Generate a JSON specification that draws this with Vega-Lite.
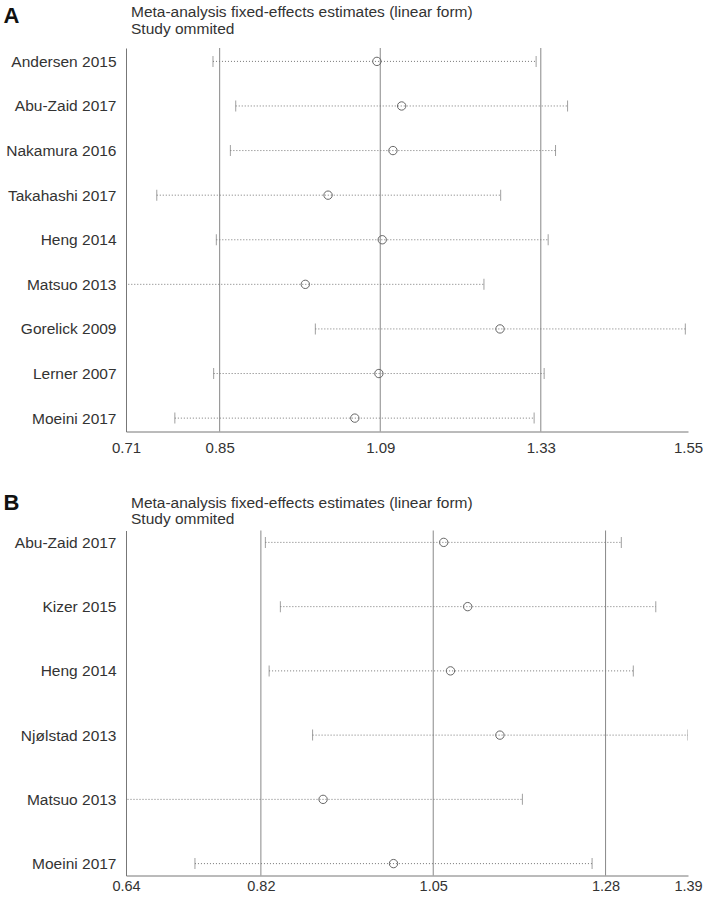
{
  "$schema": "https://vega.github.io/schema/vega-lite/v6.json",
  "padding": {"left": 3, "top": 4, "right": 0, "bottom": 0},
  "background": "white",
  "config": {
    "view": {"stroke": null},
    "font": "Liberation Sans",
    "axis": {"labelFont": "Liberation Sans", "titleFont": "Liberation Sans"}
  },
  "datasets": {
    "a": [
      {"study": "Andersen 2015", "est": 1.085, "lo": 0.840, "hi": 1.323},
      {"study": "Abu-Zaid 2017", "est": 1.122, "lo": 0.874, "hi": 1.370},
      {"study": "Nakamura 2016", "est": 1.109, "lo": 0.866, "hi": 1.352},
      {"study": "Takahashi 2017", "est": 1.012, "lo": 0.756, "hi": 1.270},
      {"study": "Heng 2014", "est": 1.093, "lo": 0.845, "hi": 1.341},
      {"study": "Matsuo 2013", "est": 0.978, "lo": 0.700, "hi": 1.245},
      {"study": "Gorelick 2009", "est": 1.269, "lo": 0.993, "hi": 1.546},
      {"study": "Lerner 2007", "est": 1.088, "lo": 0.841, "hi": 1.335},
      {"study": "Moeini 2017", "est": 1.052, "lo": 0.783, "hi": 1.320}
    ],
    "aref": [{"v": 0.85}, {"v": 1.09}, {"v": 1.33}],
    "b": [
      {"study": "Abu-Zaid 2017", "est": 1.064, "lo": 0.826, "hi": 1.301},
      {"study": "Kizer 2015", "est": 1.096, "lo": 0.846, "hi": 1.347},
      {"study": "Heng 2014", "est": 1.073, "lo": 0.831, "hi": 1.317},
      {"study": "Njølstad 2013", "est": 1.139, "lo": 0.889, "hi": 1.390},
      {"study": "Matsuo 2013", "est": 0.903, "lo": 0.630, "hi": 1.169},
      {"study": "Moeini 2017", "est": 0.997, "lo": 0.732, "hi": 1.262}
    ],
    "bref": [{"v": 0.82}, {"v": 1.05}, {"v": 1.28}]
  },
  "spacing": 35.5,
  "resolve": {"scale": {"x": "independent", "y": "independent"}},
  "vconcat": [
    {
      "width": 562,
      "height": 383.5,
      "title": {"text": ["Meta-analysis fixed-effects estimates (linear form)", "Study ommited"], "anchor": "start", "frame": "group", "dx": 5, "fontSize": 15.5, "fontWeight": "normal", "color": "#333", "font": "Liberation Sans", "lineHeight": 17.5, "offset": -33},
      "layer": [
        {
          "data": {"name": "aref"},
          "mark": {"type": "rule", "color": "#888", "strokeWidth": 1},
          "encoding": {"x": {"field": "v", "type": "quantitative"}}
        },
        {
          "data": {"name": "a"},
          "mark": {"type": "rule", "color": "#777", "strokeWidth": 1, "strokeDash": [1, 2], "clip": true},
          "encoding": {
            "y": {"field": "study", "type": "nominal", "sort": null},
            "x": {"field": "lo", "type": "quantitative"},
            "x2": {"field": "hi"}
          }
        },
        {
          "data": {"name": "a"},
          "mark": {"type": "tick", "color": "#777", "thickness": 1, "size": 11, "clip": true},
          "encoding": {
            "y": {"field": "study", "type": "nominal", "sort": null},
            "x": {"field": "lo", "type": "quantitative"}
          }
        },
        {
          "data": {"name": "a"},
          "mark": {"type": "tick", "color": "#777", "thickness": 1, "size": 11, "clip": true},
          "encoding": {
            "y": {"field": "study", "type": "nominal", "sort": null},
            "x": {"field": "hi", "type": "quantitative"}
          }
        },
        {
          "data": {"name": "a"},
          "mark": {"type": "point", "shape": "circle", "filled": false, "stroke": "#666", "strokeWidth": 1, "size": 70, "opacity": 1},
          "encoding": {
            "y": {"field": "study", "type": "nominal", "sort": null,
              "scale": {"type": "point", "padding": 0.3},
              "axis": {"title": "A", "titleAngle": 0, "titleAlign": "left", "titleBaseline": "top", "titleX": -123, "titleY": -42.5, "titleFontSize": 22, "titleFontWeight": "bold", "titleColor": "#111", "ticks": false, "grid": false, "labelPadding": 10, "labelFontSize": 15.5, "labelColor": "#333", "domainColor": "#777", "labelFont": "Liberation Sans"}},
            "x": {"field": "est", "type": "quantitative",
              "scale": {"domain": [0.71, 1.55], "nice": false, "zero": false},
              "axis": {"title": null, "values": [0.71, 0.85, 1.09, 1.33, 1.55], "format": ".2f", "grid": false, "ticks": false, "labelPadding": 9, "labelFontSize": 15, "labelColor": "#333", "domainColor": "#777", "labelFlush": false, "labelOverlap": false, "labelBound": false, "labelFont": "Liberation Sans"}}
          }
        }
      ]
    },
    {
      "width": 562,
      "height": 345,
      "title": {"text": ["Meta-analysis fixed-effects estimates (linear form)", "Study ommited"], "anchor": "start", "frame": "group", "dx": 5, "fontSize": 15.5, "fontWeight": "normal", "color": "#333", "font": "Liberation Sans", "lineHeight": 16.5, "offset": -36},
      "layer": [
        {
          "data": {"name": "bref"},
          "mark": {"type": "rule", "color": "#888", "strokeWidth": 1},
          "encoding": {"x": {"field": "v", "type": "quantitative"}}
        },
        {
          "data": {"name": "b"},
          "mark": {"type": "rule", "color": "#777", "strokeWidth": 1, "strokeDash": [1, 2], "clip": true},
          "encoding": {
            "y": {"field": "study", "type": "nominal", "sort": null},
            "x": {"field": "lo", "type": "quantitative"},
            "x2": {"field": "hi"}
          }
        },
        {
          "data": {"name": "b"},
          "mark": {"type": "tick", "color": "#777", "thickness": 1, "size": 11, "clip": true},
          "encoding": {
            "y": {"field": "study", "type": "nominal", "sort": null},
            "x": {"field": "lo", "type": "quantitative"}
          }
        },
        {
          "data": {"name": "b"},
          "mark": {"type": "tick", "color": "#777", "thickness": 1, "size": 11, "clip": true},
          "encoding": {
            "y": {"field": "study", "type": "nominal", "sort": null},
            "x": {"field": "hi", "type": "quantitative"}
          }
        },
        {
          "data": {"name": "b"},
          "mark": {"type": "point", "shape": "circle", "filled": false, "stroke": "#666", "strokeWidth": 1, "size": 70, "opacity": 1},
          "encoding": {
            "y": {"field": "study", "type": "nominal", "sort": null,
              "scale": {"type": "point", "padding": 0.185},
              "axis": {"title": "B", "titleAngle": 0, "titleAlign": "left", "titleBaseline": "top", "titleX": -123, "titleY": -38, "titleFontSize": 22, "titleFontWeight": "bold", "titleColor": "#111", "ticks": false, "grid": false, "labelPadding": 10, "labelFontSize": 15.5, "labelColor": "#333", "domainColor": "#777", "labelFont": "Liberation Sans"}},
            "x": {"field": "est", "type": "quantitative",
              "scale": {"domain": [0.64, 1.39], "nice": false, "zero": false},
              "axis": {"title": null, "values": [0.64, 0.82, 1.05, 1.28, 1.39], "format": ".2f", "grid": false, "ticks": false, "labelPadding": 4, "labelFontSize": 14.5, "labelColor": "#333", "domainColor": "#777", "labelFlush": false, "labelOverlap": false, "labelBound": false, "labelFont": "Liberation Sans"}}
          }
        }
      ]
    }
  ]
}
